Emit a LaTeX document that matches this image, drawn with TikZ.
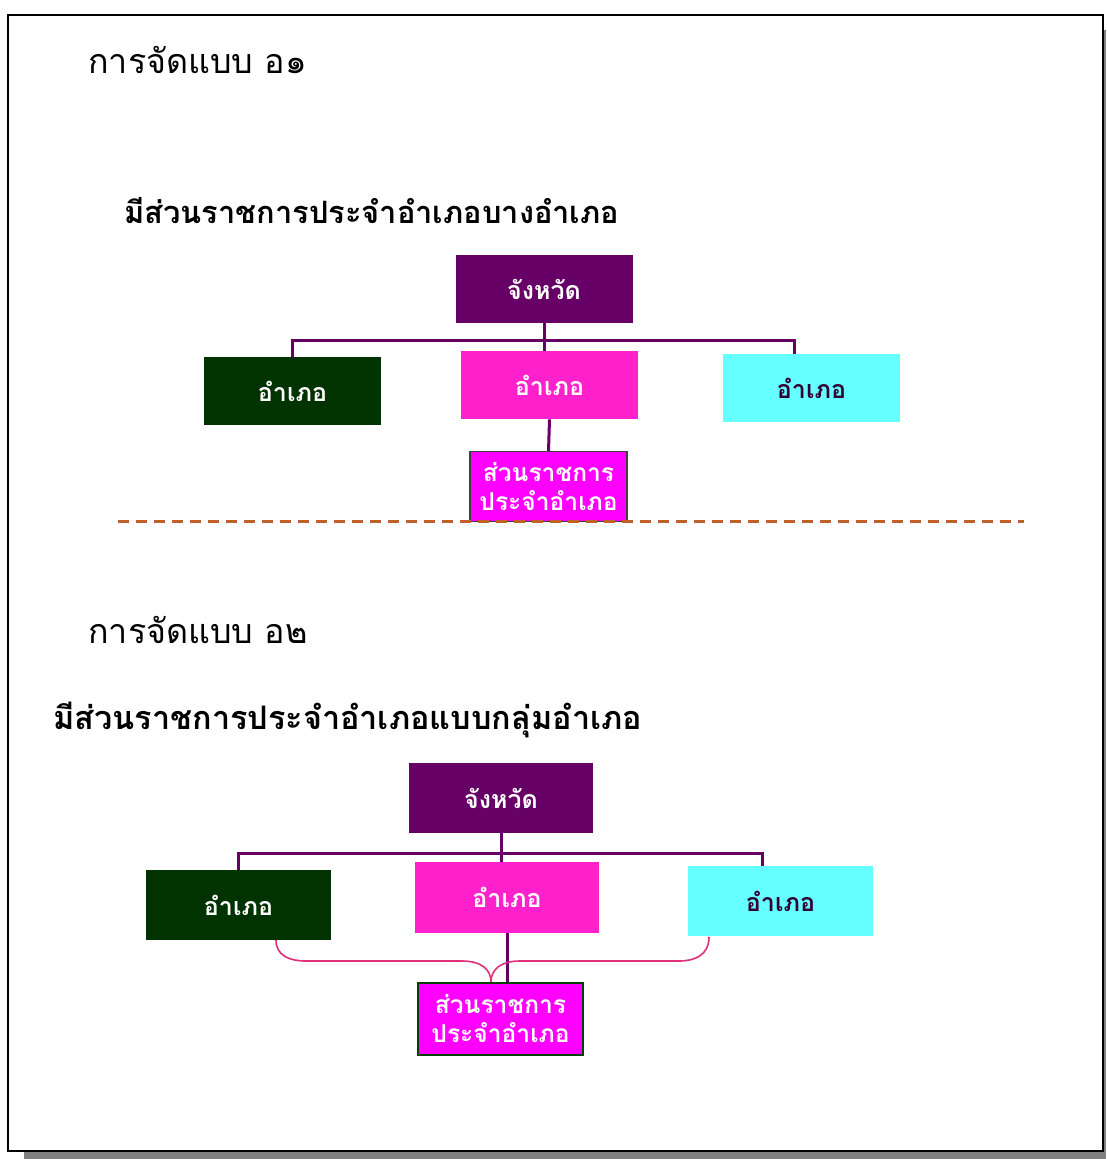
\documentclass[tikz,border=0pt]{standalone}
\usepackage{fontspec}
\usepackage{tikz}
\newfontfamily\thaifont[Script=Thai]{Loma}
\definecolor{provcol}{HTML}{660066}
\definecolor{leftcol}{HTML}{003300}
\definecolor{midcol}{HTML}{FF22CC}
\definecolor{rightcol}{HTML}{66FFFF}
\definecolor{subcol}{HTML}{FF00FF}
\definecolor{rtext}{HTML}{330033}
\definecolor{bracecol}{HTML}{E0307A}
\definecolor{dashcol}{HTML}{C0602A}
\definecolor{shadowcol}{HTML}{808080}

\begin{document}
\begin{tikzpicture}[x=0.5pt,y=-0.5pt,
    box/.style={minimum width=88.5pt,minimum height=34pt,inner sep=0pt,
      font=\thaifont\bfseries\fontsize{12.5}{14}\selectfont,text=white},
    subbox/.style={box,minimum width=78.5pt,minimum height=35pt,fill=subcol,
      draw=black!75,line width=0.7pt,align=center,
      font=\thaifont\bfseries\fontsize{12.3}{14.5}\selectfont},
    orgline/.style={provcol,line width=1.5pt},
    bracket/.style={bracecol,line width=0.8pt},
    title/.style={anchor=west,inner sep=0pt,font=\thaifont\fontsize{17}{20}\selectfont},
    subtitle/.style={anchor=west,inner sep=0pt,font=\thaifont\bfseries\fontsize{15.4}{17}\selectfont}]
  \useasboundingbox (0,0) rectangle (1106,1159);
  % Frame with shadow
  \fill[shadowcol] (24,30) rectangle (1106,1159);
  \draw[fill=white,line width=1pt] (8,15) rectangle (1103,1151);

  % Layout 1
  \node[title] (title1) at (88,60) {การจัดแบบ อ๑};
  \node[subtitle] (sub1t) at (124,211) {มีส่วนราชการประจำอำเภอบางอำเภอ};
  \node[box,fill=provcol] (prov1) at (544,289) {จังหวัด};
  \node[box,fill=leftcol] (amp1l) at (292.5,391.5) {อำเภอ};
  \node[box,fill=midcol] (amp1m) at (549.5,385) {อำเภอ};
  \node[box,fill=rightcol,text=rtext] (amp1r) at (811.5,388) {อำเภอ};
  \node[subbox] (unit1) at (548.5,486.5) {ส่วนราชการ\\ประจำอำเภอ};
  \coordinate (bus1) at (544,341);
  \draw[orgline] (amp1l.north) -- (amp1l.north |- bus1)
    -- ([xshift=-8.5pt]amp1r.north |- bus1) -- ([xshift=-8.5pt]amp1r.north);
  \draw[orgline] (prov1.south) -- (prov1.south |- amp1m.north);
  \draw[orgline] (amp1m.south) -- (unit1.north);

  % Separator
  \draw[dashcol,line width=1.5pt,dash pattern=on 5.5pt off 3.5pt] (118,521) -- (1024,521);

  % Layout 2
  \node[title] (title2) at (88,630) {การจัดแบบ อ๒};
  \node[subtitle,font=\thaifont\bfseries\fontsize{16.2}{18}\selectfont] (sub2t) at (53,720) {มีส่วนราชการประจำอำเภอแบบกลุ่มอำเภอ};
  \node[box,fill=provcol,minimum width=92pt,minimum height=35pt] (prov2) at (501,798) {จังหวัด};
  \node[box,fill=leftcol,minimum width=92.5pt,minimum height=35pt] (amp2l) at (238.5,905) {อำเภอ};
  \node[box,fill=midcol,minimum width=92pt,minimum height=35.5pt] (amp2m) at (507,897.5) {อำเภอ};
  \node[box,fill=rightcol,text=rtext,minimum width=92.5pt,minimum height=35pt] (amp2r) at (780.5,901) {อำเภอ};
  \node[subbox,draw=green!25!black,minimum width=82.5pt,minimum height=36pt] (unit2) at (500.5,1019) {ส่วนราชการ\\ประจำอำเภอ};
  \coordinate (bus2) at (502,853);
  \draw[orgline] (amp2l.north) -- (amp2l.north |- bus2)
    -- ([xshift=-9pt]amp2r.north |- bus2) -- ([xshift=-9pt]amp2r.north);
  \draw[orgline] (prov2.south) -- (prov2.south |- amp2m.north);
  \draw[orgline] (amp2m.south) -- (amp2m.south |- unit2.north);
  % Brace
  \coordinate (tip2) at (491,982);
  \coordinate (brl) at (276,940);
  \coordinate (brr) at (709,937);
  \draw[bracket] (brl) .. controls +(0,16) and +(-16,0) .. (306,961) -- (462,961)
    .. controls +(20,0) and +(0,-12) .. (tip2);
  \draw[bracket] (brr) .. controls +(0,18) and +(16,0) .. (679,961) -- (520,961)
    .. controls +(-20,0) and +(0,-12) .. (tip2);
\end{tikzpicture}
\end{document}
